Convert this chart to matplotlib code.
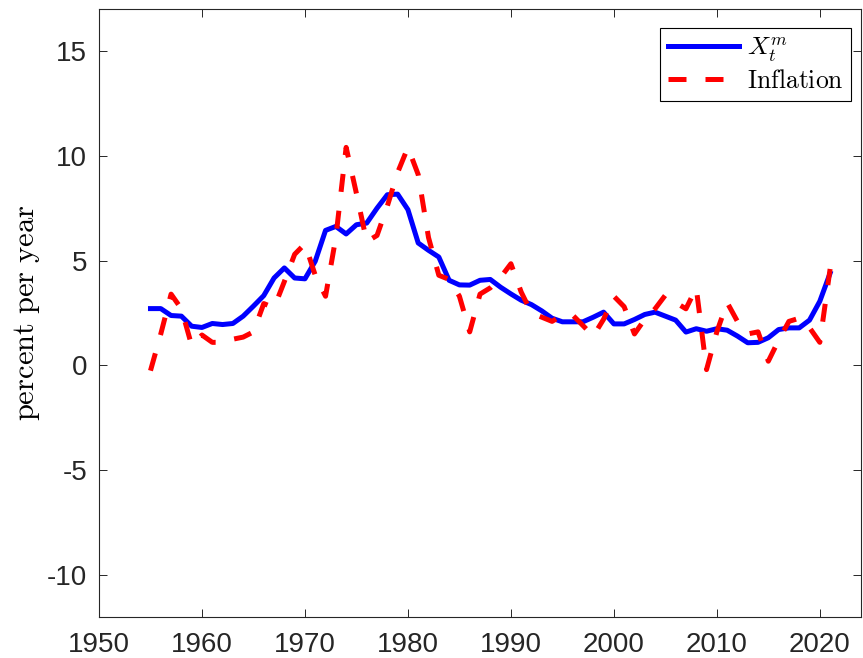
import matplotlib
matplotlib.use("Agg")
import matplotlib.pyplot as plt

plt.rcParams['mathtext.fontset'] = 'cm'
plt.rcParams['font.family'] = ['Liberation Sans', 'DejaVu Sans']

# data
years = list(range(1955, 2022))

x_m = [2.71, 2.71, 2.38, 2.35, 1.87, 1.81, 2.00, 1.95, 2.00, 2.35,
       2.83, 3.33, 4.17, 4.65, 4.17, 4.13, 4.97, 6.44, 6.63, 6.27,
       6.71, 6.79, 7.50, 8.14, 8.17, 7.43, 5.84, 5.49, 5.17, 4.06,
       3.84, 3.83, 4.06, 4.10, 3.73, 3.41, 3.11, 2.90, 2.60, 2.25,
       2.08, 2.08, 2.08, 2.30, 2.54, 1.98, 1.98, 2.19, 2.43, 2.54,
       2.35, 2.16, 1.59, 1.75, 1.63, 1.75, 1.68, 1.40, 1.08, 1.10,
       1.32, 1.71, 1.79, 1.79, 2.16, 3.06, 4.40]

inflation = [-0.25, 1.50, 3.40, 2.70, 0.95, 1.45, 1.10, 1.10, 1.25, 1.35,
             1.60, 2.95, 2.75, 4.00, 5.30, 5.80, 4.30, 3.30, 6.10, 10.40,
             8.20, 5.90, 6.20, 7.60, 9.20, 10.40, 9.10, 6.10, 4.30, 4.10,
             3.30, 1.60, 3.40, 3.70, 4.20, 4.85, 3.50, 2.50, 2.30, 2.10,
             2.40, 2.40, 1.90, 1.40, 2.20, 3.30, 2.80, 1.50, 2.20, 2.70,
             3.35, 3.00, 2.70, 3.70, -0.20, 1.60, 3.00, 2.10, 1.50, 1.60,
             0.20, 1.20, 2.10, 2.25, 1.80, 1.10, 4.60]

x_ticks = [1950, 1960, 1970, 1980, 1990, 2000, 2010, 2020]
y_ticks = [-10, -5, 0, 5, 10, 15]

AX_COLOR = '#262626'

fig = plt.figure(figsize=(8.63, 6.58), dpi=100)
ax = fig.add_axes([99 / 863, 1 - 617 / 658, 762 / 863, 608 / 658])

ax.plot(years, x_m, color='#0000ff', lw=3.6, label=r'$X_t^m$')
ax.plot(years, inflation, color='#ff0000', lw=3.6, linestyle=(0, (3.6, 3.8)),
        label=r'$\mathrm{Inflation}$')

ax.set_xlim(1950, 2024)
ax.set_ylim(-12, 17)
ax.set_xticks(x_ticks)
ax.set_yticks(y_ticks)
ax.set_yticklabels([str(v) for v in y_ticks])

ax.tick_params(axis='both', direction='in', length=5.8, width=0.7,
               top=True, right=True, colors=AX_COLOR, labelsize=20)
ax.tick_params(axis='y', pad=8.4)
ax.tick_params(axis='x', pad=10.5)
for s in ax.spines.values():
    s.set_color(AX_COLOR)
    s.set_linewidth(0.8)

ax.set_ylabel(r'$\mathrm{percent\ per\ year}$', fontsize=22, color='black',
              labelpad=4)

leg = ax.legend(loc='upper right', bbox_to_anchor=(0.987, 0.969),
                borderaxespad=0, fontsize=18.4, handlelength=2.8,
                handletextpad=0.3, labelspacing=0.2, borderpad=0.3,
                fancybox=False, framealpha=1, edgecolor='black')
leg.get_frame().set_linewidth(0.8)

fig.savefig('out.png', dpi=100)
